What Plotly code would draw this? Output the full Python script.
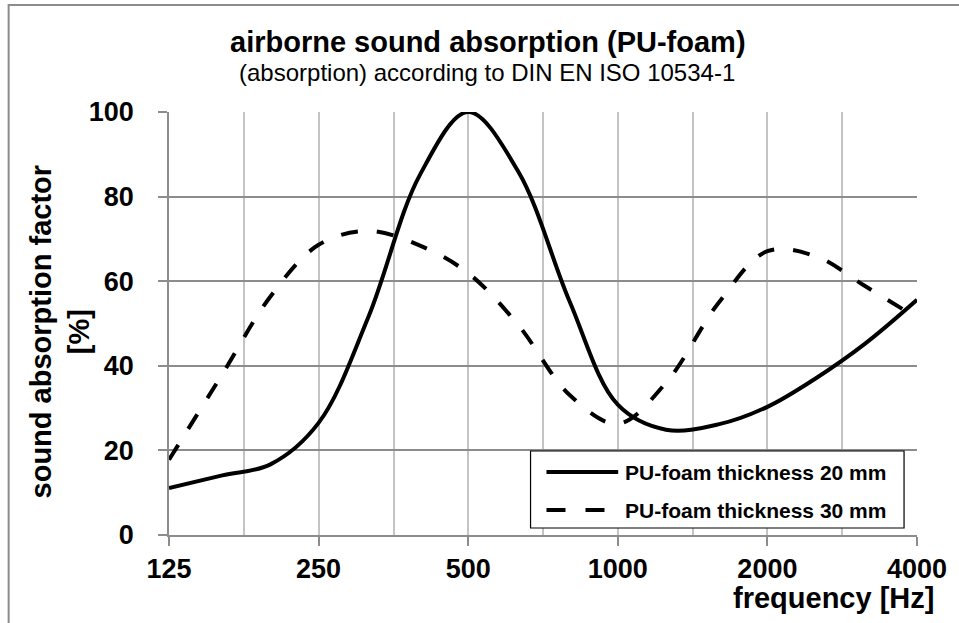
import math
import plotly.graph_objects as go

# ---- data (1/3-octave bands) ----
freq_hz = [125, 160, 200, 250, 315, 400, 500, 630, 800, 1000, 1250, 1600, 2000, 2500, 3150, 4000]
alpha_20mm = [11.1, 14.1, 16.7, 26.5, 51.6, 85.2, 100.0, 86.0, 55.2, 30.8, 24.9, 26.2, 30.3, 37.0, 45.3, 55.6]
alpha_30mm = [17.8, 38.0, 56.4, 68.6, 71.9, 68.4, 61.9, 49.7, 33.1, 26.3, 36.0, 55.1, 67.1, 65.9, 58.8, 51.3]

major_ticks = [125, 250, 500, 1000, 2000, 4000]
major_labels = ["125", "250", "500", "1000", "2000", "4000"]
minor_ticks = [177, 354, 707, 1414, 2828]

name_20 = "PU-foam thickness 20 mm"
name_30 = "PU-foam thickness 30 mm"

W, H = 959, 623
L, R, T, B = 169, 920, 112, 535

FONT = "Liberation Sans, Arial, sans-serif"


def px(xp):
    return (xp - L) / (R - L)


def py(yp):
    return (B - yp) / (B - T)


fig = go.Figure()
fig.add_trace(go.Scatter(x=freq_hz, y=alpha_20mm, mode="lines", name=name_20,
                         line=dict(color="black", width=4, shape="spline", smoothing=1),
                         showlegend=False))
fig.add_trace(go.Scatter(x=freq_hz, y=alpha_30mm, mode="lines", name=name_30,
                         line=dict(color="black", width=4, shape="spline", smoothing=1,
                                   dash="17px,19px"),
                         showlegend=False))

fig.update_layout(
    width=W, height=H,
    margin=dict(l=L, r=W - R, t=T, b=H - B, pad=0),
    paper_bgcolor="white", plot_bgcolor="white",
    font=dict(family=FONT, color="black"),
    xaxis=dict(type="log", range=[math.log10(125), math.log10(4000)],
               tickmode="array", tickvals=major_ticks, ticktext=major_labels,
               ticks="outside", ticklen=9, tickwidth=1.5, tickcolor="#8c8c8c",
               showgrid=True, gridcolor="#c4c4c4", gridwidth=1.5,
               showline=True, linecolor="#8c8c8c", linewidth=1.5,
               tickfont=dict(size=27, family=FONT, weight="bold"),
               ticklabelstandoff=0,
               minor=dict(tickmode="array", tickvals=minor_ticks, showgrid=True,
                          gridcolor="#c4c4c4", gridwidth=1.5, ticks=""),
               zeroline=False),
    yaxis=dict(range=[0, 100], tickmode="array", tickvals=[0, 20, 40, 60, 80, 100],
               ticks="outside", ticklen=9, tickwidth=1.5, tickcolor="#8c8c8c",
               showgrid=True, gridcolor="#8c8c8c", gridwidth=1.5,
               showline=True, linecolor="#8c8c8c", linewidth=1.5,
               tickfont=dict(size=27, family=FONT, weight="bold"),
               ticklabelstandoff=19, zeroline=False),
)

shapes = []
# outer chart border
shapes.append(dict(type="rect", xref="paper", yref="paper",
                   x0=px(8), x1=px(1000), y0=py(680), y1=py(5),
                   line=dict(color="#8c8c8c", width=2), fillcolor="rgba(0,0,0,0)",
                   layer="below"))
# legend box
shapes.append(dict(type="rect", xref="paper", yref="paper",
                   x0=px(532), x1=px(907), y0=py(528), y1=py(451),
                   line=dict(color="black", width=1.2), fillcolor="white", layer="above"))
shapes.append(dict(type="line", xref="paper", yref="paper",
                   x0=px(548), x1=px(620), y0=py(472), y1=py(472),
                   line=dict(color="black", width=4), layer="above"))
shapes.append(dict(type="line", xref="paper", yref="paper",
                   x0=px(548), x1=px(607), y0=py(510), y1=py(510),
                   line=dict(color="black", width=4, dash="19px,20px"), layer="above"))

annotations = [
    dict(text="<b>airborne sound absorption (PU-foam)</b>", xref="paper", yref="paper",
         x=px(489), y=py(42), xanchor="center", yanchor="middle", showarrow=False,
         font=dict(size=29, family=FONT, color="black")),
    dict(text="(absorption) according to DIN EN ISO 10534-1", xref="paper", yref="paper",
         x=px(488), y=py(72), xanchor="center", yanchor="middle", showarrow=False,
         font=dict(size=24, family=FONT, color="black")),
    dict(text="<b>sound absorption factor<br>[%]</b>", xref="paper", yref="paper",
         x=px(60), y=py(331), xanchor="center", yanchor="middle", showarrow=False,
         textangle=-90, font=dict(size=29, family=FONT, color="black")),
    dict(text="<b>frequency [Hz]</b>", xref="paper", yref="paper",
         x=px(939), y=py(598), xanchor="right", yanchor="middle", showarrow=False,
         font=dict(size=29, family=FONT, color="black")),
    dict(text="<b>" + name_20 + "</b>", xref="paper", yref="paper",
         x=px(625), y=py(472), xanchor="left", yanchor="middle", showarrow=False,
         font=dict(size=21, family=FONT, color="black")),
    dict(text="<b>" + name_30 + "</b>", xref="paper", yref="paper",
         x=px(625), y=py(510), xanchor="left", yanchor="middle", showarrow=False,
         font=dict(size=21, family=FONT, color="black")),
]

fig.update_layout(shapes=shapes, annotations=annotations)
fig.write_html("out.html", config={"displayModeBar": False},
               post_script="document.body.style.margin='0';document.body.style.padding='0';")
